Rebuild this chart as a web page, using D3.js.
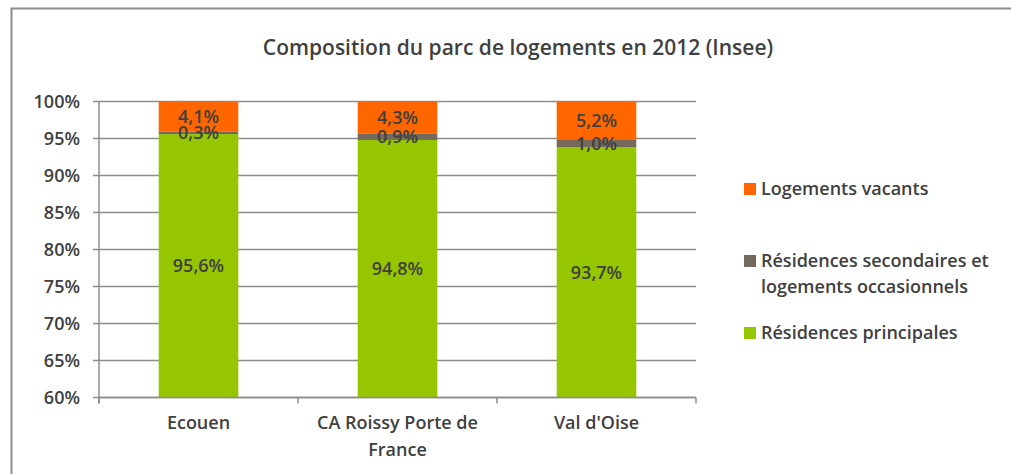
<!DOCTYPE html>
<html>
<head>
<meta charset="utf-8">
<script src="https://cdn.jsdelivr.net/npm/d3@7"></script>
<style>
  body { margin: 0; background: #fff; }
  text { font-family: "Open Sans", Lato, sans-serif; fill: #404040; font-weight: 600; }
</style>
</head>
<body>
<svg id="chart" width="1011" height="474"></svg>
<script>
var categories = ['Ecouen', 'CA Roissy Porte de France', "Val d'Oise"];
var catLines = [['Ecouen'], ['CA Roissy Porte de', 'France'], ["Val d'Oise"]];
var seriesNames = ['Résidences principales', 'Résidences secondaires et logements occasionnels', 'Logements vacants'];
var principales = [95.6, 94.8, 93.7];
var secondaires = [0.3, 0.9, 1.0];
var vacants = [4.1, 4.3, 5.2];
var yTicks = [60, 65, 70, 75, 80, 85, 90, 95, 100];
var colors = ['#95c600', '#75695b', '#ff6600'];

var svg = d3.select('#chart');

// outer frame (cut by the picture on right and bottom)
svg.append('rect')
    .attr('x', 11.5).attr('y', 8.5)
    .attr('width', 1100).attr('height', 600)
    .attr('fill', 'none').attr('stroke', '#8c8c8c').attr('stroke-width', 2);

svg.append('text')
    .attr('x', 518).attr('y', 55)
    .attr('text-anchor', 'middle')
    .style('font-size', '21px')
    .text('Composition du parc de logements en 2012 (Insee)');

var plotLeft = 99, plotRight = 696, plotTop = 101.5, plotBottom = 397.5;

var x = d3.scaleBand().domain(categories).range([plotLeft, plotRight]).paddingInner(0.6).paddingOuter(0.3);
var y = d3.scaleLinear().domain([60, 100]).range([plotBottom, plotTop]);

// gridlines
svg.append('g').selectAll('line').data(yTicks).enter().append('line')
    .attr('x1', plotLeft - 6).attr('x2', plotRight)
    .attr('y1', function(d) { return y(d); }).attr('y2', function(d) { return y(d); })
    .attr('stroke', '#8c8c8c').attr('stroke-width', 1.5);

svg.append('g').selectAll('text').data(yTicks).enter().append('text')
    .attr('x', 80).attr('y', function(d) { return y(d); })
    .attr('dy', '0.35em')
    .attr('text-anchor', 'end')
    .style('font-size', '18px')
    .text(function(d) { return d + '%'; });

// stacked data
var rows = categories.map(function(c, i) {
    var total = principales[i] + secondaires[i] + vacants[i];
    return { cat: c, vals: [principales[i], secondaires[i], vacants[i]], total: total };
});

var segs = [];
rows.forEach(function(r) {
    var acc = 0;
    r.vals.forEach(function(v, k) {
        var y0 = acc / r.total * 100;
        acc += v;
        var y1 = acc / r.total * 100;
        segs.push({ cat: r.cat, k: k, v: v, y0: Math.max(y0, 60), y1: y1 });
    });
});

svg.append('g').selectAll('rect').data(segs).enter().append('rect')
    .attr('x', function(d) { return x(d.cat); })
    .attr('width', x.bandwidth())
    .attr('y', function(d) { return y(d.y1); })
    .attr('height', function(d) { return y(d.y0) - y(d.y1); })
    .attr('fill', function(d) { return colors[d.k]; });

svg.append('g').selectAll('text').data(segs).enter().append('text')
    .attr('x', function(d) { return x(d.cat) + x.bandwidth() / 2; })
    .attr('y', function(d) { return y((d.y0 + d.y1) / 2); })
    .attr('dy', '0.35em')
    .attr('text-anchor', 'middle')
    .style('font-size', '18px')
    .text(function(d) { return d.v.toFixed(1).replace('.', ',') + '%'; });

// axes lines
svg.append('line')
    .attr('x1', plotLeft).attr('x2', plotLeft).attr('y1', plotTop).attr('y2', plotBottom + 6)
    .attr('stroke', '#8c8c8c').attr('stroke-width', 1.5);
svg.append('line')
    .attr('x1', plotLeft).attr('x2', plotRight).attr('y1', plotBottom).attr('y2', plotBottom)
    .attr('stroke', '#8c8c8c').attr('stroke-width', 1.5);
var bounds = d3.range(categories.length + 1).map(function(i) { return plotLeft + i * (plotRight - plotLeft) / categories.length; });
svg.append('g').selectAll('line').data(bounds).enter().append('line')
    .attr('x1', function(d) { return d; }).attr('x2', function(d) { return d; })
    .attr('y1', plotBottom).attr('y2', plotBottom + 6)
    .attr('stroke', '#8c8c8c').attr('stroke-width', 1.5);

// category labels
var cl = svg.append('g').selectAll('text').data(categories).enter().append('text')
    .attr('x', function(d) { return x(d) + x.bandwidth() / 2; })
    .attr('y', 429)
    .attr('text-anchor', 'middle')
    .style('font-size', '18px');
cl.each(function(d, i) {
    var t = d3.select(this);
    catLines[i].forEach(function(line, j) {
        t.append('tspan')
            .attr('x', x(d) + x.bandwidth() / 2)
            .attr('dy', j === 0 ? 0 : 27)
            .text(line);
    });
});

// legend
var legend = [
    { k: 2, lines: ['Logements vacants'], y: 189 },
    { k: 1, lines: ['Résidences secondaires et', 'logements occasionnels'], y: 261 },
    { k: 0, lines: ['Résidences principales'], y: 333 }
];
var lg = svg.append('g').selectAll('g').data(legend).enter().append('g');
lg.append('rect')
    .attr('x', 744).attr('y', function(d) { return d.y - 6; })
    .attr('width', 12).attr('height', 12)
    .attr('fill', function(d) { return colors[d.k]; });
lg.append('text')
    .attr('y', function(d) { return d.y; })
    .style('font-size', '18px')
    .each(function(d) {
        var t = d3.select(this);
        d.lines.forEach(function(line, j) {
            t.append('tspan').attr('x', 761).attr('dy', j === 0 ? '0.35em' : 26).text(line);
        });
    });
</script>
</body>
</html>
